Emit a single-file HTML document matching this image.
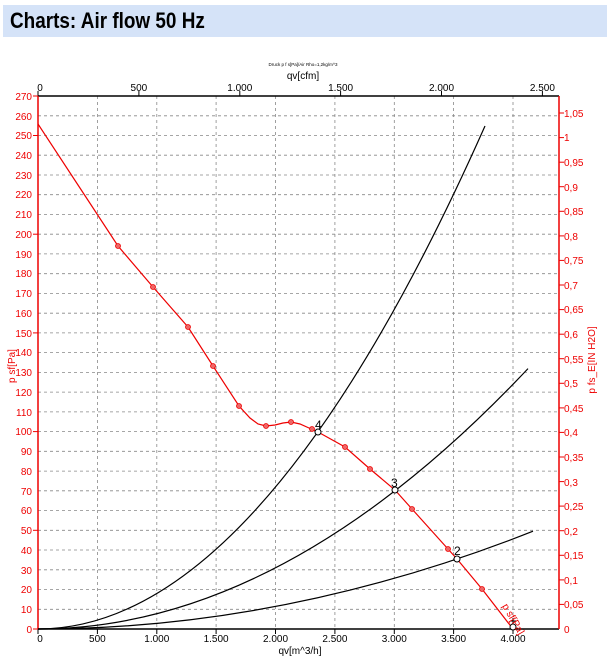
<!DOCTYPE html>
<html><head><meta charset="utf-8"><style>
body{margin:0;background:#fff;width:607px;height:663px;overflow:hidden;font-family:"Liberation Sans",Arial,sans-serif}
.bar{position:absolute;left:3px;top:5px;width:604px;height:32px;background:#d5e3f8}
.bar span{position:absolute;left:7px;top:3px;font-weight:bold;font-size:22px;color:#000;transform:scaleX(0.86);transform-origin:left center;white-space:nowrap}
svg{position:absolute;left:0;top:0}
</style></head><body>
<div class="bar"><span>Charts: Air flow 50 Hz</span></div>
<svg width="607" height="663" viewBox="0 0 607 663" font-family="Liberation Sans, Arial, sans-serif">
<g stroke="#888" stroke-width="0.8" stroke-dasharray="3,3">
<line x1="97.4" y1="96" x2="97.4" y2="629"/><line x1="156.8" y1="96" x2="156.8" y2="629"/><line x1="216.1" y1="96" x2="216.1" y2="629"/><line x1="275.5" y1="96" x2="275.5" y2="629"/><line x1="334.9" y1="96" x2="334.9" y2="629"/><line x1="394.3" y1="96" x2="394.3" y2="629"/><line x1="453.6" y1="96" x2="453.6" y2="629"/><line x1="513" y1="96" x2="513" y2="629"/>
<line x1="38" y1="609.3" x2="559" y2="609.3"/><line x1="38" y1="589.5" x2="559" y2="589.5"/><line x1="38" y1="569.8" x2="559" y2="569.8"/><line x1="38" y1="550" x2="559" y2="550"/><line x1="38" y1="530.3" x2="559" y2="530.3"/><line x1="38" y1="510.6" x2="559" y2="510.6"/><line x1="38" y1="490.8" x2="559" y2="490.8"/><line x1="38" y1="471.1" x2="559" y2="471.1"/><line x1="38" y1="451.3" x2="559" y2="451.3"/><line x1="38" y1="431.6" x2="559" y2="431.6"/><line x1="38" y1="411.9" x2="559" y2="411.9"/><line x1="38" y1="392.1" x2="559" y2="392.1"/><line x1="38" y1="372.4" x2="559" y2="372.4"/><line x1="38" y1="352.6" x2="559" y2="352.6"/><line x1="38" y1="332.9" x2="559" y2="332.9"/><line x1="38" y1="313.2" x2="559" y2="313.2"/><line x1="38" y1="293.4" x2="559" y2="293.4"/><line x1="38" y1="273.7" x2="559" y2="273.7"/><line x1="38" y1="253.9" x2="559" y2="253.9"/><line x1="38" y1="234.2" x2="559" y2="234.2"/><line x1="38" y1="214.5" x2="559" y2="214.5"/><line x1="38" y1="194.7" x2="559" y2="194.7"/><line x1="38" y1="175" x2="559" y2="175"/><line x1="38" y1="155.2" x2="559" y2="155.2"/><line x1="38" y1="135.5" x2="559" y2="135.5"/><line x1="38" y1="115.8" x2="559" y2="115.8"/>
</g>
<!-- axes -->
<line x1="38" y1="96" x2="559" y2="96" stroke="#000" stroke-width="1.5"/>
<line x1="38" y1="629" x2="559" y2="629" stroke="#000" stroke-width="1.5"/>
<line x1="38" y1="96" x2="38" y2="629" stroke="#e00" stroke-width="1.5"/>
<line x1="559" y1="96" x2="559" y2="629" stroke="#e00" stroke-width="1.5"/>
<g stroke="#000" stroke-width="1">
<line x1="97.4" y1="629" x2="97.4" y2="634"/><line x1="156.8" y1="629" x2="156.8" y2="634"/><line x1="216.1" y1="629" x2="216.1" y2="634"/><line x1="275.5" y1="629" x2="275.5" y2="634"/><line x1="334.9" y1="629" x2="334.9" y2="634"/><line x1="394.3" y1="629" x2="394.3" y2="634"/><line x1="453.6" y1="629" x2="453.6" y2="634"/><line x1="513" y1="629" x2="513" y2="634"/><line x1="38" y1="629" x2="38" y2="634"/>
<line x1="38" y1="96" x2="38" y2="91"/><line x1="138.9" y1="96" x2="138.9" y2="91"/><line x1="239.8" y1="96" x2="239.8" y2="91"/><line x1="340.6" y1="96" x2="340.6" y2="91"/><line x1="441.5" y1="96" x2="441.5" y2="91"/><line x1="542.4" y1="96" x2="542.4" y2="91"/>
</g>
<g stroke="#e00" stroke-width="1">
<line x1="33" y1="629" x2="38" y2="629"/><line x1="33" y1="530.3" x2="38" y2="530.3"/><line x1="33" y1="431.6" x2="38" y2="431.6"/><line x1="33" y1="332.9" x2="38" y2="332.9"/><line x1="33" y1="234.2" x2="38" y2="234.2"/><line x1="33" y1="135.5" x2="38" y2="135.5"/><line x1="33" y1="96" x2="38" y2="96"/>
<line x1="559" y1="604.4" x2="564" y2="604.4"/><line x1="559" y1="579.9" x2="564" y2="579.9"/><line x1="559" y1="555.3" x2="564" y2="555.3"/><line x1="559" y1="530.7" x2="564" y2="530.7"/><line x1="559" y1="506.1" x2="564" y2="506.1"/><line x1="559" y1="481.6" x2="564" y2="481.6"/><line x1="559" y1="457" x2="564" y2="457"/><line x1="559" y1="432.4" x2="564" y2="432.4"/><line x1="559" y1="407.9" x2="564" y2="407.9"/><line x1="559" y1="383.3" x2="564" y2="383.3"/><line x1="559" y1="358.7" x2="564" y2="358.7"/><line x1="559" y1="334.2" x2="564" y2="334.2"/><line x1="559" y1="309.6" x2="564" y2="309.6"/><line x1="559" y1="285" x2="564" y2="285"/><line x1="559" y1="260.4" x2="564" y2="260.4"/><line x1="559" y1="235.9" x2="564" y2="235.9"/><line x1="559" y1="211.3" x2="564" y2="211.3"/><line x1="559" y1="186.7" x2="564" y2="186.7"/><line x1="559" y1="162.2" x2="564" y2="162.2"/><line x1="559" y1="137.6" x2="564" y2="137.6"/><line x1="559" y1="113" x2="564" y2="113"/>
</g>
<!-- left labels -->
<g fill="#e00" font-size="10" text-anchor="end">
<text x="32" y="633">0</text><text x="32" y="613">10</text><text x="32" y="593">20</text><text x="32" y="574">30</text><text x="32" y="554">40</text><text x="32" y="534">50</text><text x="32" y="514">60</text><text x="32" y="495">70</text><text x="32" y="475">80</text><text x="32" y="455">90</text><text x="32" y="435">100</text><text x="32" y="416">110</text><text x="32" y="396">120</text><text x="32" y="376">130</text><text x="32" y="356">140</text><text x="32" y="337">150</text><text x="32" y="317">160</text><text x="32" y="297">170</text><text x="32" y="277">180</text><text x="32" y="258">190</text><text x="32" y="238">200</text><text x="32" y="218">210</text><text x="32" y="198">220</text><text x="32" y="179">230</text><text x="32" y="159">240</text><text x="32" y="139">250</text><text x="32" y="120">260</text><text x="32" y="100">270</text>
</g>
<g fill="#e00" font-size="10">
<text x="564" y="633">0</text><text x="564" y="608">0,05</text><text x="564" y="584">0,1</text><text x="564" y="559">0,15</text><text x="564" y="535">0,2</text><text x="564" y="510">0,25</text><text x="564" y="486">0,3</text><text x="564" y="461">0,35</text><text x="564" y="436">0,4</text><text x="564" y="412">0,45</text><text x="564" y="387">0,5</text><text x="564" y="363">0,55</text><text x="564" y="338">0,6</text><text x="564" y="313">0,65</text><text x="564" y="289">0,7</text><text x="564" y="264">0,75</text><text x="564" y="240">0,8</text><text x="564" y="215">0,85</text><text x="564" y="191">0,9</text><text x="564" y="166">0,95</text><text x="564" y="141">1</text><text x="564" y="117">1,05</text>
</g>
<text fill="#e00" font-size="10" transform="translate(15,366) rotate(-90)" text-anchor="middle">p sf[Pa]</text>
<text fill="#e00" font-size="10" transform="translate(595,360) rotate(-90)" text-anchor="middle">p fs_E[IN H2O]</text>
<!-- bottom labels -->
<g fill="#000" font-size="10" text-anchor="middle">
<text x="40" y="642">0</text><text x="97.4" y="642">500</text><text x="156.8" y="642">1.000</text><text x="216.1" y="642">1.500</text><text x="275.5" y="642">2.000</text><text x="334.9" y="642">2.500</text><text x="394.3" y="642">3.000</text><text x="453.6" y="642">3.500</text><text x="513" y="642">4.000</text>
<text x="300" y="654">qv[m^3/h]</text>
<text x="40" y="91">0</text><text x="138.9" y="91">500</text><text x="239.8" y="91">1.000</text><text x="340.6" y="91">1.500</text><text x="441.5" y="91">2.000</text><text x="542.4" y="91">2.500</text>
<text x="303" y="79">qv[cfm]</text>
<text x="303" y="66" font-size="4.5">Druck p f s[Pa]/Air Rho=1,2kg/m^3</text>
</g>
<!-- system curves -->
<g fill="none" stroke="#000" stroke-width="1.2">
<path d="M38,629 Q261.5,629 485,126"/>
<path d="M38,629 Q283,629 528,368.6"/>
<path d="M38,629 Q285.5,629 533,531.2"/>
</g>
<!-- fan curve -->
<polyline fill="none" stroke="#e00" stroke-width="1.2" points="38,124 78,185 118,246 153,287 188,327 213,366 239,406 250,418 258,424 266,426 275,425 283,423 291,422 300,424 309,428 318,432 345,447 370,469 395,490 412,509 448,549 457,559 482,589 513,629"/>
<g fill="#e66" stroke="#e00" stroke-width="0.8">
<circle cx="118" cy="246" r="2.5"/><circle cx="153" cy="287" r="2.5"/><circle cx="188" cy="327" r="2.5"/><circle cx="213" cy="366" r="2.5"/><circle cx="239" cy="406" r="2.5"/><circle cx="266" cy="426" r="2.5"/><circle cx="291" cy="422" r="2.5"/><circle cx="312" cy="429" r="2.5"/><circle cx="345" cy="447" r="2.5"/><circle cx="370" cy="469" r="2.5"/><circle cx="412" cy="509" r="2.5"/><circle cx="448" cy="549" r="2.5"/><circle cx="482" cy="589" r="2.5"/>
</g>
<g fill="#fff" stroke="#000" stroke-width="1">
<circle cx="318" cy="432" r="3"/><circle cx="395" cy="490" r="3"/><circle cx="457" cy="559" r="3"/><circle cx="513" cy="627" r="3"/>
</g>
<g fill="#000" font-size="12">
<text x="315" y="429">4</text><text x="391" y="487">3</text><text x="454" y="555">2</text>
</g>
<path d="M513,618 v6 M510,621 h6" stroke="#000"/>
<text fill="#e00" font-size="10" transform="translate(502,606) rotate(60)">p sf[Pa]</text>
</svg>
</body></html>
